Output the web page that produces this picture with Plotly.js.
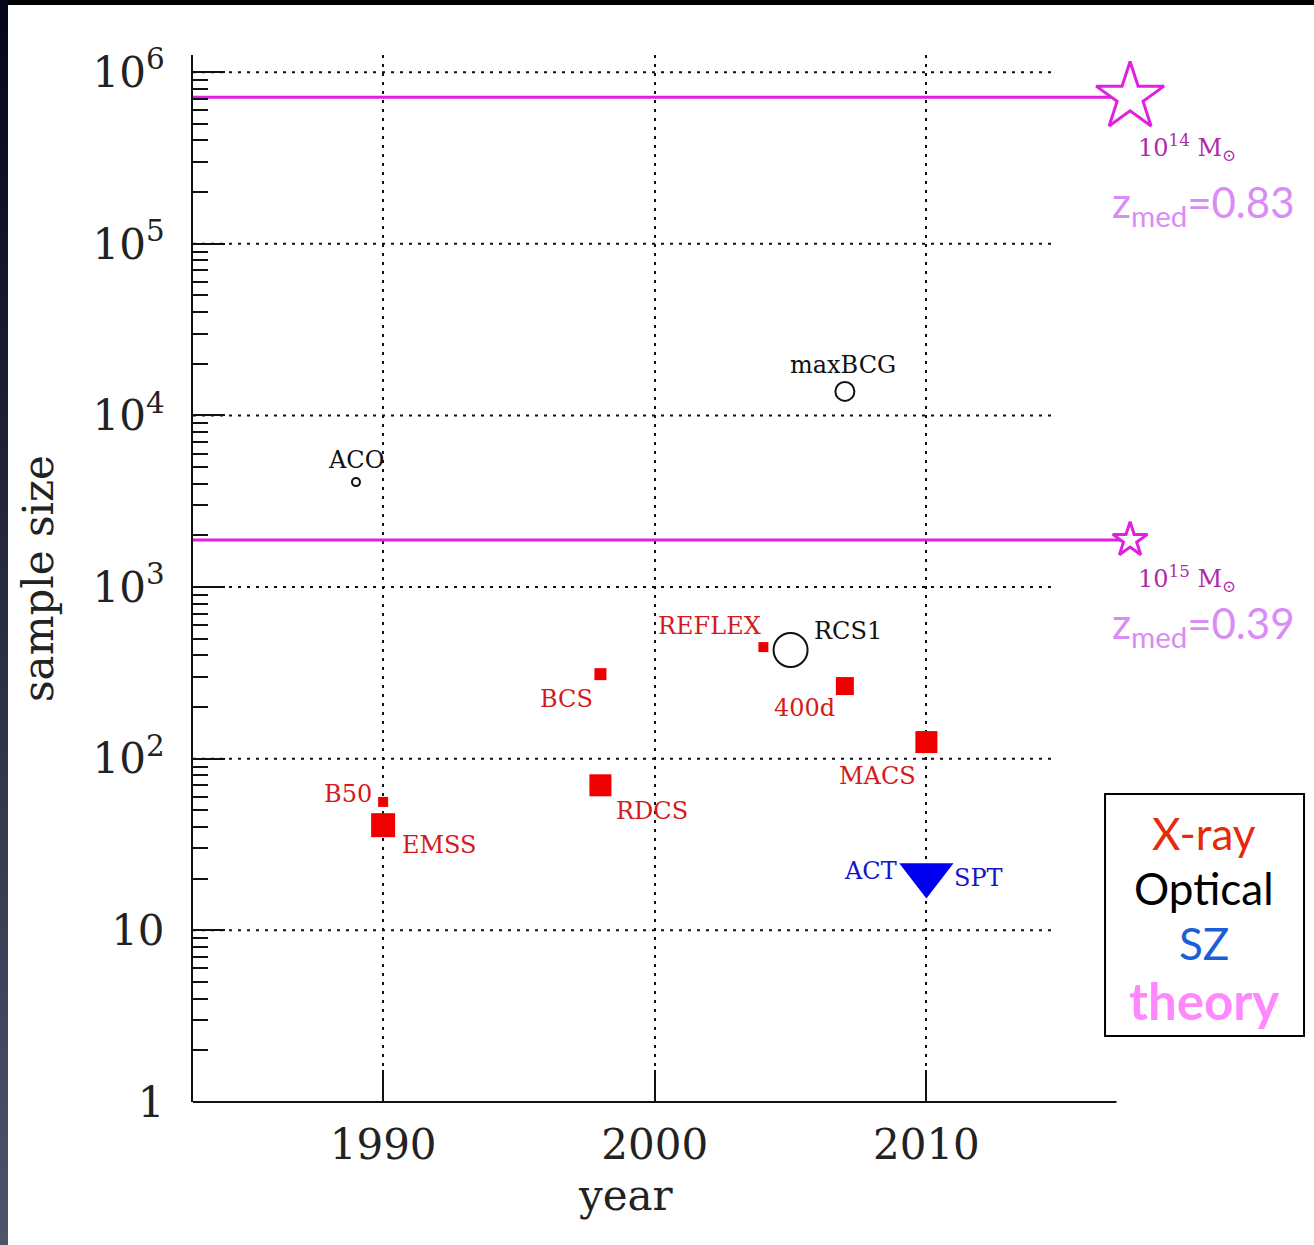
<!DOCTYPE html>
<html>
<head>
<meta charset="utf-8">
<script src="https://cdn.plot.ly/plotly-3.0.1.min.js"></script>
<style>
  html, body { margin:0; padding:0; background:#000; width:1314px; height:1245px; overflow:hidden; }
  #strip { position:absolute; left:0; top:0; width:8px; height:1245px; background:linear-gradient(#05051a, #50536a); }
  #chart { position:absolute; left:8px; top:5px; width:1306px; height:1240px; background:#fff; }
</style>
</head>
<body>
<div id="strip"></div>
<div id="chart"></div>
<script>
// ---------- data ----------
// X-ray surveys (red squares)
const xrayNames = ['B50', 'EMSS', 'BCS', 'RDCS', 'REFLEX', '400d', 'MACS'];
const xrayYears = [1990, 1990, 1998, 1998, 2004, 2007, 2010];
const xraySizes = [56, 41, 311, 70, 447, 265, 125];

// Optical surveys (open circles)
const opticalNames = ['ACO', 'RCS1', 'maxBCG'];
const opticalYears = [1989, 2005, 2007];
const opticalSizes = [4090, 430, 13800];

// SZ surveys (triangle)
const szNames = ['ACT', 'SPT'];
const szYears = [2010, 2010];
const szSizes = [21, 21];

// theory predictions
const theoryLabels = ['10<sup>14</sup> M<sub>⊙</sub>', '10<sup>15</sup> M<sub>⊙</sub>'];
const theoryZmed = ['0.83', '0.39'];
const theoryStartYear = 1983;
const theoryEndYear = 2017.5;
const theorySizes = [715000, 1880];

// axis ticks
const yearTicks = [1990, 2000, 2010];
const sizeTicks = [1, 10, 100, 1000, 10000, 100000, 1000000];
const sizeTickText = ['1', '10', '10<sup>2</sup>', '10<sup>3</sup>', '10<sup>4</sup>', '10<sup>5</sup>', '10<sup>6</sup>'];

// legend entries
const legendTexts = ['X-ray', 'Optical', 'SZ', 'theory'];

// ---------- styles ----------
const SERIF = 'DejaVu Serif, serif';
const SANS = 'Lato, Open Sans, sans-serif';
const RED = '#ee0000', RED_TXT = '#d41a1a';
const BLUE = '#0000ee', BLUE_TXT = '#1414c8';
const MAG = '#e01fe0';

const xrayMarkerPx = [10, 24, 12, 22, 10, 18, 22];
const opticalMarkerPx = [8, 34, 19];
const theoryStarPx = [51, 26];

// label placement (px offsets from point) per label
const xrayLabelPos = [
  {xanchor:'right', xshift:-9, yshift:8},
  {xanchor:'left', xshift:17, yshift:-20},
  {xanchor:'center', xshift:-34, yshift:-25},
  {xanchor:'left', xshift:14, yshift:-26},
  {xanchor:'right', xshift:0, yshift:21},
  {xanchor:'right', xshift:-8, yshift:-22},
  {xanchor:'right', xshift:-8, yshift:-34}
];
const opticalLabelPos = [
  {xanchor:'center', xshift:0, yshift:22},
  {xanchor:'left', xshift:21, yshift:19},
  {xanchor:'center', xshift:-2, yshift:26}
];
const szLabelPos = [
  {xanchor:'right', xshift:-27, yshift:4},
  {xanchor:'left', xshift:26, yshift:-3}
];

// ---------- traces ----------
const traces = [];
theorySizes.forEach((v, i) => {
  traces.push({
    type:'scatter', mode:'lines+markers',
    x:[theoryStartYear, theoryEndYear], y:[v, v],
    line:{color:MAG, width:3},
    marker:{symbol:'star', size:[0, theoryStarPx[i]], color:'white', opacity:1,
            line:{color:MAG, width:[0, 3]}},
    cliponaxis:false, hoverinfo:'skip', showlegend:false
  });
});
traces.push({
  type:'scatter', mode:'markers', x:xrayYears, y:xraySizes, text:xrayNames,
  marker:{symbol:'square', size:xrayMarkerPx, color:RED, opacity:1, line:{width:0}},
  cliponaxis:false, showlegend:false
});
traces.push({
  type:'scatter', mode:'markers', x:opticalYears, y:opticalSizes, text:opticalNames,
  marker:{symbol:'circle-open', size:opticalMarkerPx, color:'#111', opacity:1, line:{width:2, color:'#111'}},
  cliponaxis:false, showlegend:false
});
traces.push({
  type:'scatter', mode:'markers', x:[szYears[0]], y:[szSizes[0]], text:[szNames.join('/')],
  marker:{symbol:'triangle-down', size:47, color:BLUE, opacity:1, line:{width:0}},
  cliponaxis:false, showlegend:false
});

// ---------- annotations ----------
const annotations = [];
function addLabels(names, xs, ys, pos, color) {
  names.forEach((n, i) => {
    annotations.push({
      x:xs[i], y:Math.log10(ys[i]), xref:'x', yref:'y', text:n, showarrow:false,
      xanchor:pos[i].xanchor, yanchor:'middle', xshift:pos[i].xshift, yshift:pos[i].yshift,
      font:{family:SERIF, size:24, color:color}
    });
  });
}
addLabels(xrayNames, xrayYears, xraySizes, xrayLabelPos, RED_TXT);
addLabels(opticalNames, opticalYears, opticalSizes, opticalLabelPos, '#111');
addLabels(szNames, szYears, szSizes, szLabelPos, BLUE_TXT);

theorySizes.forEach((v, i) => {
  annotations.push({
    x:theoryEndYear, y:Math.log10(v), xref:'x', yref:'y', text:theoryLabels[i], showarrow:false,
    xanchor:'center', yanchor:'middle', xshift:57, yshift:(i === 0 ? -50 : -38),
    font:{family:SERIF, size:24, color:'#b02aa8'}
  });
  annotations.push({
    x:theoryEndYear, y:Math.log10(v), xref:'x', yref:'y',
    text:'z<sub>med</sub>=' + theoryZmed[i], showarrow:false,
    xanchor:'center', yanchor:'middle', xshift:73, yshift:(i === 0 ? -108 : -86),
    font:{family:SANS, size:42, color:'#da8cf6'}
  });
});

const legendColors = ['#e62a0c', '#000000', '#1a5fd6', '#ff88ff'];
const legendY = [0.2569, 0.2044, 0.1519, 0.0974];
legendTexts.forEach((t, i) => {
  annotations.push({
    x:1.006, y:legendY[i], xref:'paper', yref:'paper', showarrow:false,
    text: i === 3 ? '<b>' + t + '</b>' : t,
    xanchor:'center', yanchor:'middle',
    font:{family:SANS, size: i === 3 ? 51 : 44, color:legendColors[i], weight: i === 3 ? 900 : 400}
  });
});

// x-axis title placed as annotation (centred on the drawn axis portion)
annotations.push({
  x:0.431, y:0, xref:'paper', yref:'paper', yshift:-93, showarrow:false,
  text:'year', xanchor:'center', yanchor:'middle',
  font:{family:SERIF, size:42, color:'#222'}
});

// ---------- shapes ----------
const gridEnd = 2014.64;
const shapes = [];
sizeTicks.slice(1).forEach(v => {
  shapes.push({type:'line', layer:'below', xref:'x', yref:'y', x0:1983, x1:gridEnd, y0:v, y1:v,
               line:{color:'#111', width:2, dash:'3px,6px'}});
});
// x-axis line (ends at 2017)
shapes.push({type:'line', layer:'above', xref:'x', yref:'paper', x0:1983, x1:2017, y0:0, y1:0,
             line:{color:'#111', width:2}});
// legend box
shapes.push({type:'rect', xref:'paper', yref:'paper', x0:0.9075, x1:1.1055, y0:0.063, y1:0.2942,
             line:{color:'#000', width:2}, fillcolor:'rgba(0,0,0,0)'});

const layout = {
  width:1306, height:1240,
  margin:{l:185, r:116, t:50, b:143},
  paper_bgcolor:'#fff', plot_bgcolor:'#fff',
  showlegend:false,
  xaxis:{
    range:[1983, 2020], tickvals:yearTicks, ticktext:yearTicks.map(String),
    ticks:'inside', ticklen:32, tickwidth:2, tickcolor:'#111',
    showline:false, zeroline:false,
    showgrid:true, gridcolor:'#111', gridwidth:2, griddash:'3px,6px',
    tickfont:{family:SERIF, size:42, color:'#222'},
    ticklabelstandoff:14,
    fixedrange:true
  },
  yaxis:{
    type:'log', range:[0, 6.1], tickvals:sizeTicks, ticktext:sizeTickText,
    ticks:'inside', ticklen:32, tickwidth:2, tickcolor:'#111',
    minor:{dtick:'D1', ticks:'inside', ticklen:15, tickwidth:2, tickcolor:'#111', showgrid:false},
    showline:true, linecolor:'#111', linewidth:2, zeroline:false, showgrid:false,
    tickfont:{family:SERIF, size:42, color:'#222'},
    ticklabelstandoff:18,
    title:{text:'sample size', font:{family:SERIF, size:42, color:'#222'}, standoff:26},
    fixedrange:true
  },
  shapes:shapes,
  annotations:annotations
};

Plotly.newPlot('chart', traces, layout, {staticPlot:true, displayModeBar:false});
</script>
</body>
</html>
